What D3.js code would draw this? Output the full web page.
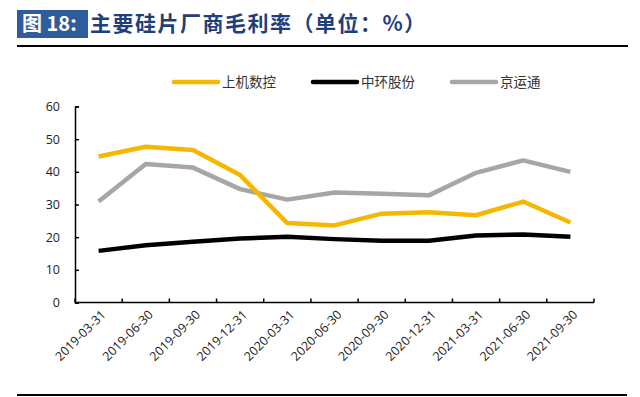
<!DOCTYPE html>
<html>
<head>
<meta charset="utf-8">
<script src="https://cdn.jsdelivr.net/npm/d3@7"></script>
<style>
  body { margin: 0; background: #fff; }
  svg { display: block; }
</style>
</head>
<body>
<svg id="chart" width="640" height="397"></svg>
<script>
// quarters on the x axis
const dates = ["2019-03-31","2019-06-30","2019-09-30","2019-12-31","2020-03-31","2020-06-30",
               "2020-09-30","2020-12-31","2021-03-31","2021-06-30","2021-09-30"]

// gross margin %
const shangji = [44.7, 47.7, 46.7, 39.0, 24.3, 23.6, 27.2, 27.6, 26.7, 30.9, 24.5]
const zhonghuan = [15.8, 17.5, 18.6, 19.6, 20.1, 19.4, 18.9, 18.9, 20.5, 20.8, 20.1]
const jingyuntong = [30.9, 42.4, 41.3, 34.7, 31.5, 33.7, 33.3, 32.8, 39.7, 43.5, 40.0]

const seriesNames = ["上机数控","中环股份","京运通"]
const yTicks = [0,10,20,30,40,50,60]

const colors = ["#F5B800","#000000","#A6A6A6"]
const series = [shangji, zhonghuan, jingyuntong].map((v,i)=>({name:seriesNames[i], values:v, color:colors[i]}))

const svg = d3.select("#chart")
const cjk = "'Noto Sans CJK SC', sans-serif"

// header
svg.append("rect").attr("x",17).attr("y",10).attr("width",71).attr("height",28).attr("fill","#2F5C9A")
svg.append("text").attr("x",22).attr("y",31).attr("fill","#fff")
  .attr("font-family",cjk).attr("font-size",20).attr("font-weight","bold").text("图 18:")
svg.append("text").attr("x",90).attr("y",31).attr("fill","#1F3F7A")
  .attr("font-family",cjk).attr("font-size",21).attr("font-weight","bold").attr("letter-spacing",1.5)
  .text("主要硅片厂商毛利率（单位：%）")
svg.append("line").attr("x1",17).attr("x2",628).attr("y1",46).attr("y2",46).attr("stroke","#000").attr("stroke-width",2)
svg.append("line").attr("x1",17).attr("x2",627).attr("y1",395).attr("y2",395).attr("stroke","#000").attr("stroke-width",2)

const margin = {left:75, right:46, top:106, bottom:95}
const x = d3.scaleBand().domain(dates).range([margin.left, 594])
const y = d3.scaleLinear().domain([0,60]).range([302.5, 106.5])

// y axis
const yAxis = svg.append("g").attr("transform",`translate(${margin.left},0)`)
  .call(d3.axisLeft(y).tickValues(yTicks).tickSize(-4).tickPadding(15))
yAxis.select(".domain").attr("stroke","#000").attr("stroke-width",1.5)
yAxis.selectAll(".tick line").attr("stroke","#000").attr("stroke-width",1.5)
yAxis.selectAll("text").attr("font-family","'Open Sans', sans-serif").attr("font-size",12.5).attr("fill","#222")

// x axis, ticks on band boundaries
const xg = svg.append("g").attr("transform",`translate(0,${y(0)})`)
xg.append("line").attr("x1",margin.left).attr("x2",594).attr("stroke","#000").attr("stroke-width",1.5)
const bounds = dates.map(d=>x(d)).concat([x(dates[dates.length-1])+x.bandwidth()])
xg.selectAll(".tk").data(bounds).join("line").attr("class","tk")
  .attr("x1",d=>d).attr("x2",d=>d).attr("y1",0).attr("y2",-4).attr("stroke","#000").attr("stroke-width",1.5)
xg.selectAll(".lbl").data(dates).join("text").attr("class","lbl")
  .attr("transform",d=>`translate(${x(d)+x.bandwidth()/2+8},13) rotate(-45)`)
  .attr("text-anchor","end").attr("font-family","'Open Sans', sans-serif").attr("font-size",12.5)
  .attr("fill","#222").text(d=>d)

// lines
const line = d3.line().x((d,i)=>x(dates[i])+x.bandwidth()/2).y(d=>y(d))
svg.append("g").selectAll("path").data([series[2],series[0],series[1]]).join("path")
  .attr("d",d=>line(d.values)).attr("fill","none").attr("stroke",d=>d.color)
  .attr("stroke-width",4.5).attr("stroke-linejoin","round")

// legend
const legX = [174, 313, 452]
const leg = svg.append("g").selectAll("g").data(series).join("g")
  .attr("transform",(d,i)=>`translate(${legX[i]},82)`)
leg.append("line").attr("x1",0).attr("x2",44).attr("stroke",d=>d.color).attr("stroke-width",4.5).attr("stroke-linecap","round")
leg.append("text").attr("x",48).attr("y",5).attr("font-family",cjk).attr("font-size",13.5)
  .attr("fill","#333").text(d=>d.name)
</script>
</body>
</html>
